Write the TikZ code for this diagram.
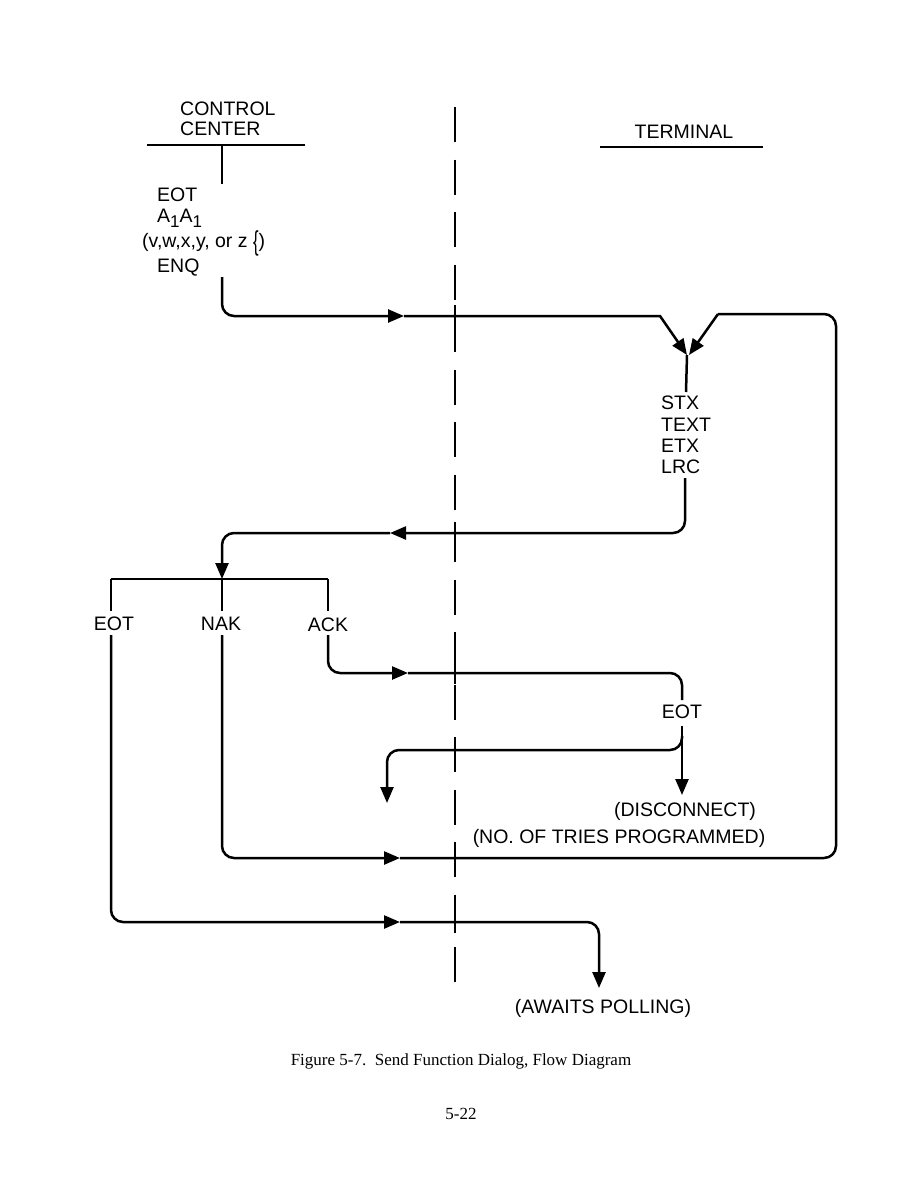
\documentclass[tikz,border=0pt]{standalone}
\usepackage{graphicx}
\usepackage{fontspec}
\setmainfont{Liberation Sans}
\newfontfamily\capfont{Liberation Serif}
\usetikzlibrary{arrows.meta}
\newcommand{\lbfont}{\fontsize{19.5}{21}\selectfont}
\newcommand{\subone}{\raisebox{-5.5pt}[0pt][0pt]{\fontsize{17}{17}\selectfont 1}}
\tikzset{
  conn/.style={line width=2.5pt, rounded corners=12pt},
  conna/.style={conn, -{Triangle[length=16pt,width=13pt]}},
  rule/.style={line width=2pt},
  divider/.style={line width=2pt, dash pattern=on 35pt off 17.5pt},
  lbl/.style={font=\lbfont, inner sep=0pt, anchor=base west},
  lblc/.style={font=\lbfont, inner sep=0pt, anchor=base},
  captxt/.style={font=\capfont\fontsize{17}{19}\selectfont, inner sep=0pt, anchor=base},
}
\begin{document}
\begin{tikzpicture}[x=1pt,y=-1pt]
\useasboundingbox (0,0) rectangle (923,1191);
\fill[white] (0,0) rectangle (923,1191);

% headings
\node[lbl] (control) at (180,115) {CONTROL};
\node[lbl] (center) at (180,135) {CENTER};
\coordinate (ccl) at (147,145);
\coordinate (ccr) at (305,145);
\draw[rule] (ccl) -- (ccr);
\node[lblc] (terminal) at (684,138) {TERMINAL};
\coordinate (tl) at (600,147);
\coordinate (tr) at (763,147);
\draw[rule] (tl) -- (tr);

% divider
\coordinate (dtop) at (455,107);
\coordinate (dbot) at (455,987);
\draw[divider] (dtop) -- (dbot);
\foreach \yy in {316,533,673,750,858,922} {
  \coordinate (xa) at (455,\yy-11);
  \coordinate (xb) at (455,\yy+11);
  \draw[line width=2pt] (xa) -- (xb);
}

% control center block
\coordinate (tick0) at (222,145);
\coordinate (tick1) at (222,184);
\draw[conn] (tick0) -- (tick1);
\node[lbl] (eot1) at (157,201) {EOT};
\node[lbl] (aa) at (157,222) {A\subone A\subone};
\node[lbl] (vw) at (142,247) {(v,w,x,y, or z \raisebox{-3pt}[0pt][0pt]{\scalebox{0.85}[1.4]{\{}})};
\node[lbl] (enq) at (157,272) {ENQ};

% ENQ -> terminal
\coordinate (enqb) at (222,277);
\coordinate (m1) at (404,316);
\coordinate (v1) at (660,316);
\coordinate (vt) at (687,355);
\draw[conna] (enqb) |- (m1);
\draw[conna, sharp corners] (m1) -- (v1) -- (vt);

% terminal text block
\coordinate (stxt) at (686,392);
\draw[conn] (vt) -- (stxt);
\node[lbl] (stx) at (661,409) {STX};
\node[lbl] (text) at (661,431) {TEXT};
\node[lbl] (etx) at (661,452) {ETX};
\node[lbl] (lrc) at (661,473) {LRC};

% LRC -> control center
\coordinate (lrcb) at (685,478);
\coordinate (m2) at (390,533);
\coordinate (bart) at (222,579);
\draw[conna] (lrcb) |- (m2);
\draw[conna] (m2) -| (bart);

% bar and branches
\coordinate (barl) at (111,579);
\coordinate (barr) at (328,579);
\draw[conn, sharp corners] (barl) -- (barr);
\coordinate (eotl0) at (111,579);
\coordinate (eotl1) at (111,611);
\coordinate (nak0) at (222,579);
\coordinate (nak1) at (222,611);
\coordinate (ack0) at (328,579);
\coordinate (ack1) at (328,611);
\draw[conn] (eotl0) -- (eotl1);
\draw[conn] (nak0) -- (nak1);
\draw[conn] (ack0) -- (ack1);
\node[lblc] (eotL) at (114,630) {EOT};
\node[lblc] (nak) at (221,630) {NAK};
\node[lblc] (ack) at (328,631) {ACK};

% ACK -> terminal
\coordinate (ackb) at (328,635);
\coordinate (m3) at (408,673);
\coordinate (eot2t) at (682,700);
\draw[conna] (ackb) |- (m3);
\draw[conn] (m3) -| (eot2t);
\node[lblc] (eot2) at (682,718) {EOT};
\coordinate (eot2b) at (682,726);
\coordinate (disc) at (682,795);
\draw[conna] (eot2b) -- (disc);
\coordinate (br0) at (682,736);
\coordinate (brm) at (530,750);
\coordinate (br1) at (387,803);
\draw[conna] (br0) |- (brm) -| (br1);
\node[lblc] (disconnect) at (685,816) {(DISCONNECT)};
\node[lblc] (tries) at (619,843) {(NO. OF TRIES PROGRAMMED)};

% NAK retry loop
\coordinate (nakb) at (222,635);
\coordinate (m4) at (400,858);
\coordinate (rc) at (836,858);
\coordinate (rt) at (836,314);
\coordinate (v2) at (718,314);
\coordinate (vt2) at (689,355);
\draw[conna] (nakb) |- (m4);
\draw[conn] (m4) -- (rc) -- (rt) -- (v2);
\draw[conna, sharp corners] (v2) -- (vt2);

% EOT -> awaits polling
\coordinate (eotlb) at (111,635);
\coordinate (m5) at (400,922);
\coordinate (await) at (599,988);
\draw[conna] (eotlb) |- (m5);
\draw[conna] (m5) -| (await);
\node[lblc] (awaits) at (603,1013) {(AWAITS POLLING)};

% caption
\node[captxt] (caption) at (461,1065) {Figure 5-7.\ \ Send Function Dialog, Flow Diagram};
\node[captxt] (page) at (461,1119) {5-22};
\end{tikzpicture}
\end{document}
